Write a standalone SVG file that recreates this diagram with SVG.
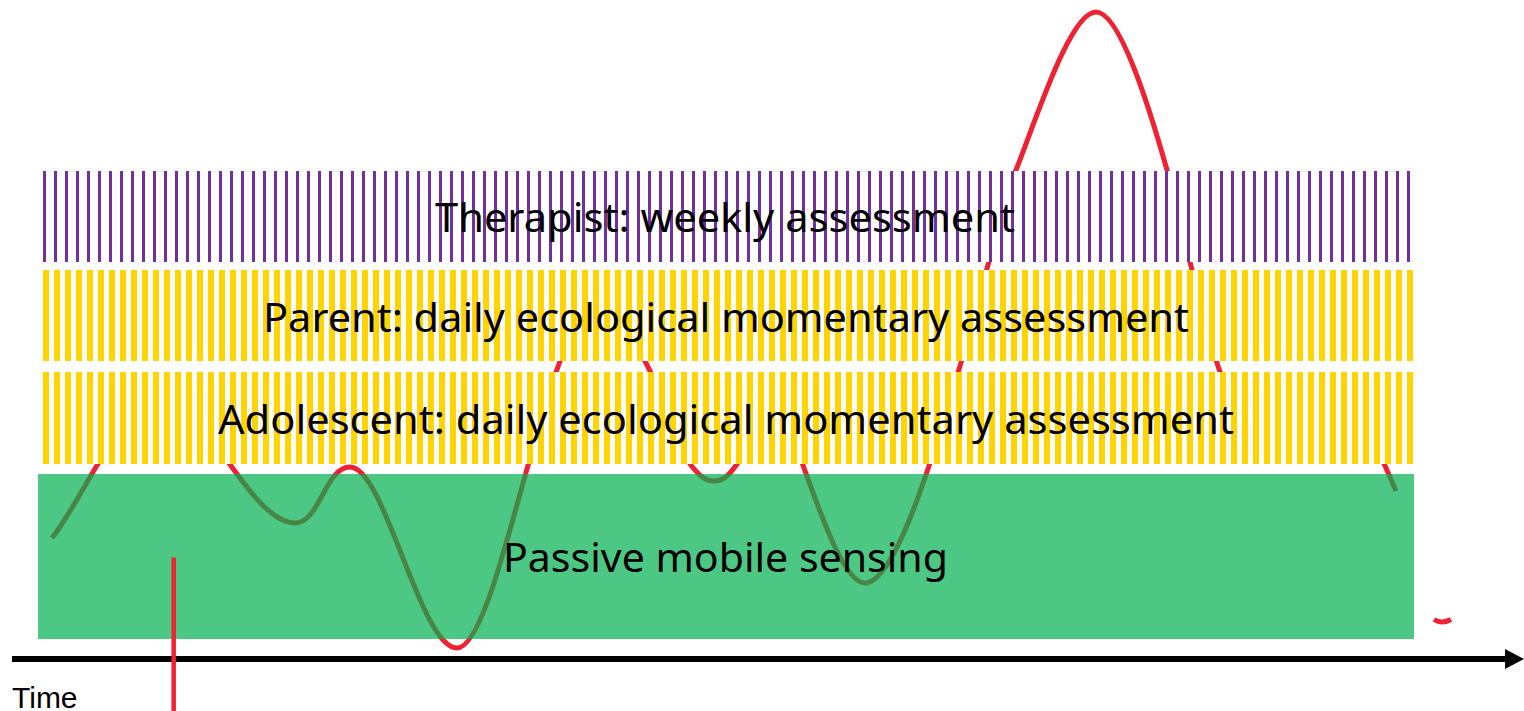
<svg xmlns="http://www.w3.org/2000/svg" width="1524" height="711" viewBox="0 0 1524 711">
  <style>
    .label { font-family: "Noto Sans", "Open Sans", sans-serif; font-size: 40px; fill: #000; text-anchor: middle; }
    .axis-label { font-family: "Liberation Sans", Arial, sans-serif; font-size: 30px; fill: #000; }
    .signal { fill: none; stroke: #EE2233; stroke-width: 5; stroke-linecap: butt; stroke-linejoin: round; }
    .band-bg { fill: #FFFFFF; }
  </style>
  <defs>
    <!-- thin purple hatching: 3px bar every 11px -->
    <pattern id="hatch-purple" patternUnits="userSpaceOnUse" x="43" y="0" width="11" height="10">
      <rect x="0" y="0" width="3" height="10" fill="#7030A0"/>
    </pattern>
    <!-- wide yellow hatching: 6px bar every 11px -->
    <pattern id="hatch-yellow" patternUnits="userSpaceOnUse" x="43" y="0" width="11" height="10">
      <rect x="0" y="0" width="6" height="10" fill="#FFD400"/>
    </pattern>
  </defs>

  <!-- underlying signal trace -->
  <g id="signal">
    <path class="signal" d="M52,538 C82,501 125,395 163,395
      C200,395 250,523 295,523
      C320,523 325,467 350,467
      C385,467 420,648 457,648
      C500,648 548,305 598,305
      C625,305 670,410 690,464
      C700,477 706,481 714,481
      C722,481 728,477 737,464
      C747,450 752,395 768,395
      C790,395 830,583 865,583
      C900,583 945,413 960,366
      C975,319 1002,205 1016,170
      C1036,120 1070,12 1096,12
      C1120,12 1150,110 1167,170
      C1181,221 1200,310 1218,366
      C1228,397 1245,440 1262,440
      C1285,440 1305,400 1330,400
      C1360,400 1378,450 1396,491"/>
    <path class="signal" d="M1434,619.5 Q1442,624.5 1451,619.5" stroke-width="3"/>
  </g>

  <g id="therapist">
    <rect class="band-bg" x="43" y="171" width="1370" height="91"/>
    <rect x="43" y="171" width="1370" height="91" fill="url(#hatch-purple)"/>
    <text class="label" x="725" y="232" textLength="580" lengthAdjust="spacingAndGlyphs">Therapist: weekly assessment</text>
  </g>

  <g id="parent">
    <rect class="band-bg" x="43" y="270" width="1370" height="91"/>
    <rect x="43" y="270" width="1370" height="91" fill="url(#hatch-yellow)"/>
    <text class="label" x="726" y="332" textLength="926" lengthAdjust="spacingAndGlyphs">Parent: daily ecological momentary assessment</text>
  </g>

  <g id="adolescent">
    <rect class="band-bg" x="43" y="372" width="1370" height="92"/>
    <rect x="43" y="372" width="1370" height="92" fill="url(#hatch-yellow)"/>
    <text class="label" x="726" y="434" textLength="1016" lengthAdjust="spacingAndGlyphs">Adolescent: daily ecological momentary assessment</text>
  </g>

  <g id="passive">
    <rect x="38" y="474" width="1376" height="165" fill="#00B050" fill-opacity="0.7"/>
    <text class="label" x="725.5" y="572" textLength="445" lengthAdjust="spacingAndGlyphs">Passive mobile sensing</text>
  </g>

  <g id="connectors">
    <line x1="12" y1="659" x2="1507" y2="659" stroke="#000" stroke-width="6"/>
    <polygon points="1505,649 1524,659 1505,669" fill="#000"/>
    <line x1="173.7" y1="557.5" x2="173.7" y2="711" stroke="#EE2233" stroke-width="4.5"/>
  </g>

  <text class="axis-label" x="12" y="707.5">Time</text>
</svg>
